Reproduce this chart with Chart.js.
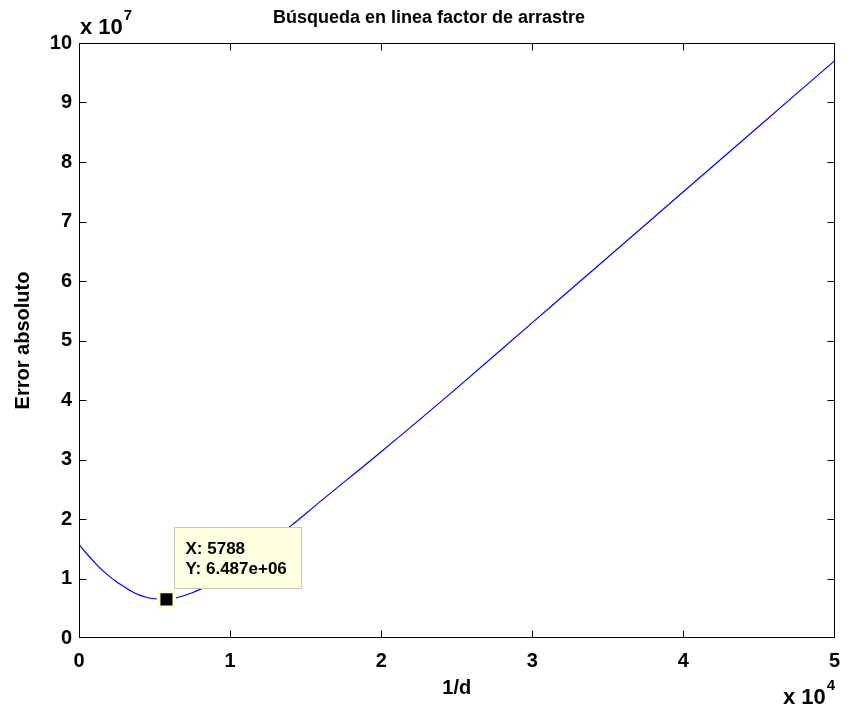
<!DOCTYPE html>
<html>
<head>
<meta charset="utf-8">
<script src="https://cdn.jsdelivr.net/npm/chart.js@4"></script>
<style>
  html, body { margin: 0; padding: 0; background: #fff; overflow: hidden; }
</style>
</head>
<body>
<!-- a few px wider than the window: the axis reserves room past the last tick label -->
<canvas id="chart" width="849" height="713"></canvas>
<script>
// 1/d values and the absolute error at each of them
const dValues = [0, 500, 1000, 1500, 2000, 2500, 3000, 3500, 4000, 4500, 5000, 5788,
  6500, 7500, 8500, 10000, 12000, 14000, 16000, 20000, 25000, 30000, 35000, 40000, 45000, 50000];
const errValues = [1.57e7, 1.42e7, 1.28e7, 1.15e7, 1.04e7, 0.94e7, 0.86e7, 0.78e7, 0.72e7, 0.68e7, 0.66e7, 0.6487e7,
  0.68e7, 0.76e7, 0.88e7, 1.10e7, 1.48e7, 1.88e7, 2.30e7, 3.13e7, 4.20e7, 5.30e7, 6.40e7, 7.50e7, 8.60e7, 9.70e7];

// data cursor on the minimum
const tipX = 5788;
const tipY = 6.487e6;

const xTicks = [0, 1, 2, 3, 4, 5];          // x 10^4
const yTicks = [0, 1, 2, 3, 4, 5, 6, 7, 8, 9, 10]; // x 10^7

const FONT = '"Liberation Sans", Arial, Helvetica, sans-serif';

function fmtExp(v) {
  const [m, e] = v.toExponential(3).split('e');
  const sign = e[0] === '-' ? '-' : '+';
  const digits = e.replace(/[+-]/, '').padStart(2, '0');
  return m + 'e' + sign + digits;
}

function expLabel(ctx, x, y, exp) {
  ctx.font = 'bold 22px ' + FONT;
  ctx.fillText('x 10', x, y);
  const w = ctx.measureText('x 10').width;
  ctx.font = 'bold 15px ' + FONT;
  ctx.fillText(exp, x + w + 1, y - 12);
}

const matlabAxes = {
  id: 'matlabAxes',
  afterDatasetsDraw(chart) {
    const { ctx, scales: { x, y } } = chart;
    // data tip box
    const px = x.getPixelForValue(tipX);
    const py = y.getPixelForValue(tipY);
    const bx = Math.round(px) + 8.5, by = Math.round(py) - 71.5;
    ctx.save();
    ctx.fillStyle = '#ffffe1';
    ctx.strokeStyle = '#c9c9b8';
    ctx.lineWidth = 1;
    ctx.fillRect(bx, by, 127, 61);
    ctx.strokeRect(bx, by, 127, 61);
    ctx.fillStyle = '#000';
    ctx.font = 'bold 17px ' + FONT;
    ctx.textAlign = 'left';
    ctx.textBaseline = 'middle';
    ctx.fillText('X: ' + tipX, bx + 11, by + 22);
    ctx.fillText('Y: ' + fmtExp(tipY), bx + 11, by + 42);
    ctx.restore();
  },
  afterDraw(chart) {
    const { ctx, chartArea: a, scales: { x, y } } = chart;
    const L = Math.round(a.left) + 0.5, R = Math.round(a.right) - 0.5;
    const T = Math.round(a.top) + 0.5, B = Math.round(a.bottom) - 0.5;
    ctx.save();
    ctx.strokeStyle = '#000';
    ctx.lineWidth = 1;
    ctx.strokeRect(L, T, R - L, B - T);
    // inward tick marks on all four sides
    ctx.beginPath();
    x.ticks.forEach(t => {
      const p = Math.min(Math.max(Math.round(x.getPixelForValue(t.value)) + 0.5, L), R);
      ctx.moveTo(p, B); ctx.lineTo(p, B - 7);
      ctx.moveTo(p, T); ctx.lineTo(p, T + 7);
    });
    y.ticks.forEach(t => {
      const p = Math.min(Math.max(Math.round(y.getPixelForValue(t.value)) + 0.5, T), B);
      ctx.moveTo(L, p); ctx.lineTo(L + 7, p);
      ctx.moveTo(R, p); ctx.lineTo(R - 7, p);
    });
    ctx.stroke();

    ctx.fillStyle = '#000';
    ctx.textBaseline = 'middle';
    // title
    ctx.font = 'bold 18px ' + FONT;
    ctx.textAlign = 'center';
    ctx.fillText('Búsqueda en linea factor de arrastre', 429, 18);
    // exponent labels
    ctx.textAlign = 'left';
    expLabel(ctx, 80, 28, '7');
    expLabel(ctx, 783, 698, '4');
    ctx.restore();
  }
};

new Chart(document.getElementById('chart'), {
  type: 'scatter',
  data: {
    datasets: [
      {
        label: 'tip',
        data: [{ x: tipX, y: tipY }],
        pointStyle: 'rect',
        pointRadius: 11,
        backgroundColor: '#000',
        borderColor: '#ffffd6',
        borderWidth: 3.5,
        order: 0
      },
      {
        label: 'error',
        data: dValues.map((d, i) => ({ x: d, y: errValues[i] })),
        showLine: true,
        borderColor: '#0000ff',
        borderWidth: 1.2,
        pointRadius: 0,
        cubicInterpolationMode: 'monotone',
        order: 1
      }
    ]
  },
  options: {
    responsive: false,
    animation: false,
    layout: { padding: { top: 43, right: 9, left: 0, bottom: 0 } },
    plugins: { legend: { display: false }, tooltip: { enabled: false }, title: { display: false } },
    scales: {
      x: {
        type: 'linear',
        min: 0, max: 50000,
        afterBuildTicks: s => { s.ticks = xTicks.map(v => ({ value: v * 1e4 })); },
        afterFit: s => { s.height = 75; s.paddingLeft = 0; s.paddingRight = 0; },
        grid: { display: false, drawTicks: false },
        border: { display: false },
        ticks: { color: '#000', padding: 11, font: { family: FONT, size: 20, weight: 'bold' },
          callback: v => v / 1e4 },
        title: { display: true, text: '1/d', color: '#000', padding: { top: 0, bottom: 13 },
          font: { family: FONT, size: 20, weight: 'bold' } }
      },
      y: {
        type: 'linear',
        min: 0, max: 1e8,
        afterBuildTicks: s => { s.ticks = yTicks.map(v => ({ value: v * 1e7 })); },
        afterFit: s => { s.width = 79; },
        grid: { display: false, drawTicks: false },
        border: { display: false },
        ticks: { color: '#000', padding: 7, font: { family: FONT, size: 20, weight: 'bold' },
          callback: v => v / 1e7 },
        title: { display: true, text: 'Error absoluto', color: '#000', padding: { top: 11, bottom: 0 },
          font: { family: FONT, size: 20, weight: 'bold' } }
      }
    }
  },
  plugins: [matlabAxes]
});
</script>
</body>
</html>
